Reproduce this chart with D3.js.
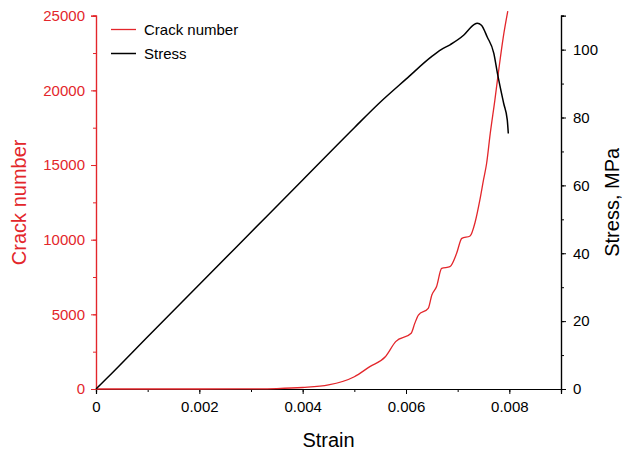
<!DOCTYPE html>
<html>
<head>
<meta charset="utf-8">
<script src="https://cdn.jsdelivr.net/npm/d3@7"></script>
<style>
  body { margin: 0; background: #fff; }
  svg text { font-family: "Liberation Sans", Arial, sans-serif; }
</style>
</head>
<body>
<div id="chart"></div>
<script>
// crack number vs strain (left axis)
var crackStrain = [0, 0.001, 0.002, 0.003, 0.0035, 0.004, 0.0045, 0.005, 0.0053, 0.0056, 0.0058, 0.0061,
  0.00617, 0.00624, 0.00643, 0.0065, 0.00659, 0.00669, 0.00685, 0.00698, 0.00708, 0.00724, 0.00734, 0.00743,
  0.0075, 0.00756, 0.00763, 0.00772, 0.0078, 0.00788, 0.00797];
var crackCount = [0, 0, 0, 10, 30, 100, 270, 820, 1500, 2160, 3170, 3730,
  4400, 4950, 5400, 6300, 6850, 8080, 8190, 9090, 10090, 10250, 11200, 12660,
  14000, 15100, 17100, 19350, 21500, 23500, 25300];

// stress vs strain (right axis)
var stressStrain = [0, 0.0002, 0.001, 0.002, 0.003, 0.004, 0.005, 0.0055, 0.006, 0.0065,
  0.00668, 0.00686, 0.00712, 0.00731, 0.00738, 0.00746, 0.00757, 0.0077, 0.00777, 0.00789, 0.00796, 0.00798];
var stressMPa = [0, 3, 15.4, 30.8, 46.2, 61.6, 77.0, 84.5, 91.3, 98.0,
  100.0, 101.5, 104.3, 107.3, 107.8, 107.2, 103.8, 98.9, 93, 84.2, 79.3, 75.3];

var strainTicks = [0, 0.002, 0.004, 0.006, 0.008];
var crackTicks = [0, 5000, 10000, 15000, 20000, 25000];
var stressTicks = [0, 20, 40, 60, 80, 100];

var seriesNames = ["Crack number", "Stress"];

var red = "#e3262b";
var W = 623, H = 454;
var margin = {top: 15.7, right: 62, bottom: 65, left: 96};

var svg = d3.select("#chart").append("svg")
  .attr("width", W)
  .attr("height", H);

var x = d3.scaleLinear().domain([0, 0.009]).range([margin.left, W - margin.right]);
var yCrack = d3.scaleLinear().domain([0, 25000]).range([H - margin.bottom, margin.top]);
var yStress = d3.scaleLinear().domain([0, 110]).range([H - margin.bottom, margin.top]);

function styleAxis(g, color) {
  g.selectAll("path").attr("stroke", color).attr("stroke-width", 1.2);
  g.selectAll("line").attr("stroke", color).attr("stroke-width", 1);
  g.selectAll("text").attr("fill", color).style("font-size", "15px");
}

// minor ticks first
svg.append("g")
  .attr("transform", "translate(0," + (H - margin.bottom) + ")")
  .call(d3.axisBottom(x).tickValues(d3.range(0, 0.0091, 0.001)).tickSize(3).tickFormat(""))
  .call(g => styleAxis(g, "#000"));
svg.append("g")
  .attr("transform", "translate(" + margin.left + ",0)")
  .call(d3.axisLeft(yCrack).tickValues(d3.range(0, 25001, 2500)).tickSize(3).tickFormat(""))
  .call(g => styleAxis(g, red));
svg.append("g")
  .attr("transform", "translate(" + (W - margin.right) + ",0)")
  .call(d3.axisRight(yStress).tickValues(d3.range(0, 111, 10)).tickSize(3).tickFormat(""))
  .call(g => styleAxis(g, "#000"));

// major ticks
svg.append("g")
  .attr("transform", "translate(0," + (H - margin.bottom) + ")")
  .call(d3.axisBottom(x).tickValues(strainTicks).tickSize(5).tickPadding(7)
    .tickFormat(d => d === 0 ? "0" : d3.format(".3f")(d)))
  .call(g => styleAxis(g, "#000"));
svg.append("g")
  .attr("transform", "translate(" + margin.left + ",0)")
  .call(d3.axisLeft(yCrack).tickValues(crackTicks).tickSize(5).tickPadding(6).tickFormat(d3.format("d")))
  .call(g => styleAxis(g, red));
svg.append("g")
  .attr("transform", "translate(" + (W - margin.right) + ",0)")
  .call(d3.axisRight(yStress).tickValues(stressTicks).tickSize(5).tickPadding(7).tickFormat(d3.format("d")))
  .call(g => styleAxis(g, "#000"));

// curves
var crackData = crackStrain.map((s, i) => [s, crackCount[i]]);
var stressData = stressStrain.map((s, i) => [s, stressMPa[i]]);

svg.append("path")
  .datum(crackData)
  .attr("fill", "none")
  .attr("stroke", red)
  .attr("stroke-width", 1.3)
  .attr("d", d3.line().x(d => x(d[0])).y(d => yCrack(d[1])).curve(d3.curveMonotoneX));

svg.append("path")
  .datum(stressData)
  .attr("fill", "none")
  .attr("stroke", "#000")
  .attr("stroke-width", 1.5)
  .attr("d", d3.line().x(d => x(d[0])).y(d => yStress(d[1])).curve(d3.curveMonotoneX));

// legend
var legend = svg.append("g");
seriesNames.forEach(function(name, i) {
  var ly = 29.5 + i * 24;
  legend.append("line")
    .attr("x1", 111).attr("x2", 136)
    .attr("y1", ly).attr("y2", ly)
    .attr("stroke", i === 0 ? red : "#000")
    .attr("stroke-width", i === 0 ? 1.3 : 1.5);
  legend.append("text")
    .attr("x", 144).attr("y", ly + 5)
    .style("font-size", "15px")
    .attr("fill", "#000")
    .text(name);
});

// axis titles
svg.append("text")
  .attr("transform", "translate(26," + ((margin.top + H - margin.bottom) / 2) + ") rotate(-90)")
  .attr("text-anchor", "middle")
  .style("font-size", "20px")
  .attr("fill", red)
  .text("Crack number");

svg.append("text")
  .attr("x", (margin.left + W - margin.right) / 2)
  .attr("y", 447)
  .attr("text-anchor", "middle")
  .style("font-size", "20px")
  .attr("fill", "#000")
  .text("Strain");

svg.append("text")
  .attr("transform", "translate(619," + ((margin.top + H - margin.bottom) / 2) + ") rotate(-90)")
  .attr("text-anchor", "middle")
  .style("font-size", "20px")
  .attr("fill", "#000")
  .text("Stress, MPa");
</script>
</body>
</html>
